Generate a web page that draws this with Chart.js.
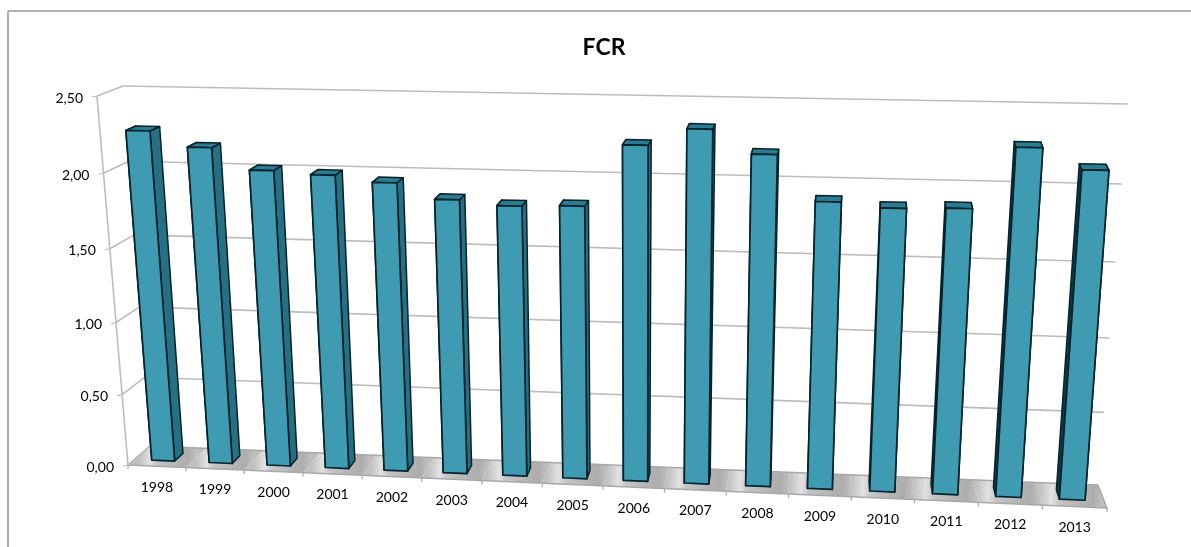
<!DOCTYPE html>
<html>
<head>
<meta charset="utf-8">
<title>FCR</title>
<style>
  html, body { margin: 0; padding: 0; background: #fff; }
  #wrap { width: 1191px; height: 547px; }
</style>
<script src="https://cdn.jsdelivr.net/npm/chart.js@4/dist/chart.umd.js"></script>
</head>
<body>
<div id="wrap"><canvas id="chart" width="1191" height="547"></canvas></div>
<script>
const categories = ["1998", "1999", "2000", "2001", "2002", "2003", "2004", "2005",
  "2006", "2007", "2008", "2009", "2010", "2011", "2012", "2013"];
const fcrValues = [2.26, 2.16, 2.02, 2.00, 1.96, 1.86, 1.83, 1.84,
  2.24, 2.35, 2.20, 1.91, 1.88, 1.89, 2.28, 2.15];
const yMax = 2.5;
const yStep = 0.5;

// corners of the plot box, front plane and back plane
const frontQuad = { bl: [128, 465], br: [1107, 508], tr: [1136, 118], tl: [97, 96] };
const backQuad = { bl: [150, 446], br: [1098, 485], tr: [1128, 104], tl: [123, 86] };

// unit square -> quad
function homography(q) {
  const [x0, y0] = q.bl, [x1, y1] = q.br, [x2, y2] = q.tr, [x3, y3] = q.tl;
  const dx1 = x1 - x2, dx2 = x3 - x2, sx = x0 - x1 + x2 - x3;
  const dy1 = y1 - y2, dy2 = y3 - y2, sy = y0 - y1 + y2 - y3;
  const den = dx1 * dy2 - dx2 * dy1;
  const g = (sx * dy2 - dx2 * sy) / den;
  const h = (dx1 * sy - sx * dy1) / den;
  return (u, v) => {
    const w = g * u + h * v + 1;
    return [
      ((x1 - x0 + g * x1) * u + (x3 - x0 + h * x3) * v + x0) / w,
      ((y1 - y0 + g * y1) * u + (y3 - y0 + h * y3) * v + y0) / w,
    ];
  };
}
const toFront = homography(frontQuad);
const toBack = homography(backQuad);

// u across the categories, v up the value axis, d from front (0) to back (1)
function project(u, v, d) {
  const a = toFront(u, v), b = toBack(u, v);
  return [a[0] + (b[0] - a[0]) * d, a[1] + (b[1] - a[1]) * d];
}

function poly(ctx, pts, fill, stroke, lw) {
  ctx.beginPath();
  pts.forEach((p, i) => (i ? ctx.lineTo(p[0], p[1]) : ctx.moveTo(p[0], p[1])));
  ctx.closePath();
  if (fill) { ctx.fillStyle = fill; ctx.fill(); }
  if (stroke) { ctx.strokeStyle = stroke; ctx.lineWidth = lw; ctx.lineJoin = "round"; ctx.stroke(); }
}

function line(ctx, a, b, color, lw) {
  ctx.beginPath();
  ctx.moveTo(a[0], a[1]);
  ctx.lineTo(b[0], b[1]);
  ctx.strokeStyle = color;
  ctx.lineWidth = lw;
  ctx.stroke();
}

const GRID = "#bcbcbc";
const FRAME = "#999999";

const perspective = {
  id: "perspective",

  // frame, walls, grid, floor and axis labels
  beforeDatasetsDraw(chart) {
    const { ctx, width, height } = chart;
    const xs = chart.scales.x, ys = chart.scales.y;
    const area = chart.chartArea;
    const valueV = (val) => (area.bottom - ys.getPixelForValue(val)) / area.height;
    const n = categories.length;

    ctx.save();
    line(ctx, [8, height], [8, 11], FRAME, 1.6);
    line(ctx, [8, 11], [width, 11], FRAME, 1.6);

    // floor: dark to the right of each bar, bright just before the next one
    for (let i = 0; i < n; i++) {
      const u0 = i / n, u1 = (i + 1) / n;
      const a = project(u0, 0, 0.5), b = project(u1, 0, 0.5);
      const grad = ctx.createLinearGradient(a[0], a[1], b[0], b[1]);
      grad.addColorStop(0, "#bfbfbf");
      grad.addColorStop(0.2, "#e2e2e2");
      grad.addColorStop(0.32, "#c6c6c6");
      grad.addColorStop(0.72, "#b2b2b2");
      grad.addColorStop(0.86, "#adadad");
      grad.addColorStop(1, "#bfbfbf");
      poly(ctx, [project(u0, 0, 0), project(u1, 0, 0), project(u1, 0, 1), project(u0, 0, 1)], grad);
    }
    poly(ctx, [project(0, 0, 0), project(1, 0, 0), project(1, 0, 1), project(0, 0, 1)], null, "#a8a8a8", 1.4);

    // grid lines: side wall then back wall
    ys.ticks.forEach((t) => {
      const v = valueV(t.value);
      line(ctx, project(0, v, 0), project(0, v, 1), GRID, 1.6);
      if (t.value > 0) line(ctx, project(0, v, 1), project(1, v, 1), GRID, 1.6);
    });
    line(ctx, project(0, 0, 0), project(0, 1, 0), GRID, 1.6);

    // value labels
    ctx.font = "14px Lato";
    ctx.textAlign = "right";
    ctx.textBaseline = "middle";
    ys.ticks.forEach((t) => {
      const p = project(0, valueV(t.value), 0);
      line(ctx, p, [p[0] - 5, p[1] + 1], GRID, 1.2);
      ctx.fillStyle = "#000";
      ctx.fillText(t.label, p[0] - 14, p[1] + 2);
    });

    // category ticks and labels on the front edge of the floor
    ctx.textAlign = "center";
    for (let i = 0; i <= n; i++) {
      const p = project(i / n, 0, 0);
      line(ctx, p, [p[0], p[1] + 4], "#a8a8a8", 1.2);
    }
    categories.forEach((c, i) => {
      const mid = (xs.getPixelForValue(i) - area.left) / area.width;
      const p = project(mid, 0, 0);
      ctx.fillStyle = "#000";
      ctx.fillText(xs.getLabelForValue(i), p[0], p[1] + 21);
    });
    ctx.restore();
  },

  // bars are box shapes built from the element geometry chart.js worked out
  beforeDatasetDraw(chart, args) {
    const { ctx } = chart;
    const area = chart.chartArea;
    const ds = chart.data.datasets[args.index];
    ctx.save();
    args.meta.data.forEach((bar) => {
      const { x, y, width } = bar.getProps(["x", "y", "width"], true);
      const u0 = (x - width / 2 - area.left) / area.width;
      const u1 = (x + width / 2 - area.left) / area.width;
      const v = (area.bottom - y) / area.height;
      const d0 = 0.3, d1 = 0.7;
      const edge = ds.edgeColor;
      // both side faces go down first, the front face hides whichever is turned away
      poly(ctx, [project(u0, 0, d0), project(u0, v, d0), project(u0, v, d1), project(u0, 0, d1)], ds.leftColor, edge, 1.5);
      poly(ctx, [project(u1, 0, d0), project(u1, v, d0), project(u1, v, d1), project(u1, 0, d1)], ds.rightColor, edge, 1.5);
      poly(ctx, [project(u0, v, d0), project(u1, v, d0), project(u1, v, d1), project(u0, v, d1)], ds.topColor, edge, 1.5);
      poly(ctx, [project(u0, 0, d0), project(u1, 0, d0), project(u1, v, d0), project(u0, v, d0)], ds.backgroundColor, edge, 1.7);
    });
    ctx.restore();
    return false;
  },
};

new Chart(document.getElementById("chart"), {
  type: "bar",
  data: {
    labels: categories,
    datasets: [{
      label: "FCR",
      data: fcrValues,
      backgroundColor: "#3e9bb2",
      leftColor: "#0c3b48",
      rightColor: "#276f82",
      topColor: "#2b7c90",
      edgeColor: "#06222a",
      barPercentage: 0.4,
      categoryPercentage: 1,
    }],
  },
  plugins: [perspective],
  options: {
    responsive: false,
    animation: false,
    layout: { padding: { left: 87, right: 70, top: 10, bottom: 60 } },
    plugins: {
      legend: { display: false },
      tooltip: { enabled: false },
      title: {
        display: true,
        text: "FCR",
        color: "#000",
        font: { family: "Lato", size: 23, weight: "bold" },
        padding: { top: 24, bottom: 20 },
      },
    },
    scales: {
      x: {
        grid: { display: false },
        border: { display: false },
        ticks: { display: false },
      },
      y: {
        min: 0,
        max: yMax,
        grid: { display: false },
        border: { display: false },
        ticks: {
          display: false,
          stepSize: yStep,
          callback: (v) => v.toFixed(2).replace(".", ","),
        },
      },
    },
  },
});
</script>
</body>
</html>
